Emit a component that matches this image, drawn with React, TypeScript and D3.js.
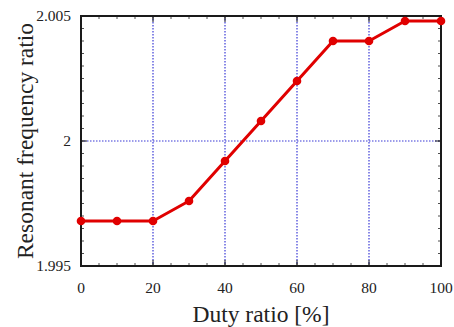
import React from "react"
import * as d3 from "d3"

const duty = [0, 10, 20, 30, 40, 50, 60, 70, 80, 90, 100]
const ratio = [1.9968, 1.9968, 1.9968, 1.9976, 1.9992, 2.0008, 2.0024, 2.004, 2.004, 2.0048, 2.0048]
const xTicks = [0, 20, 40, 60, 80, 100]
const yTicks = [1.995, 2, 2.005]
const yTickLabels = ["1.995", "2", "2.005"]

const margin = { top: 16, right: 13, bottom: 61, left: 81 }
const width = 454
const height = 327
const font = "'Liberation Serif', 'Times New Roman', serif"

export default function App() {
  const boundsWidth = width - margin.left - margin.right
  const boundsHeight = height - margin.top - margin.bottom

  const x = d3.scaleLinear().domain([0, 100]).range([0, boundsWidth])
  const y = d3.scaleLinear().domain([1.995, 2.005]).range([boundsHeight, 0])

  const line = d3.line<number>()
    .x((d, i) => x(duty[i]))
    .y(d => y(d))

  const minorY = d3.range(1.995, 2.00501, 0.0005)
  const minorX = d3.range(0, 100.1, 5)

  return (
    <svg width={width} height={height} style={{ position: "absolute", left: 0, top: 0 }}>
      <g transform={`translate(${margin.left},${margin.top})`}>
        {/* grid */}
        {xTicks.slice(1, -1).map(t => (
          <line key={"gx" + t} x1={x(t)} x2={x(t)} y1={0} y2={boundsHeight}
            stroke="#3a3ad6" strokeWidth={1.2} strokeDasharray="1.5,1.5" />
        ))}
        {yTicks.slice(1, -1).map(t => (
          <line key={"gy" + t} x1={0} x2={boundsWidth} y1={y(t)} y2={y(t)}
            stroke="#3a3ad6" strokeWidth={1.2} strokeDasharray="1.5,1.5" />
        ))}
        {/* minor ticks */}
        {minorY.map((t, i) => (
          <g key={"my" + i}>
            <line x1={0} x2={3} y1={y(t)} y2={y(t)} stroke="#222" strokeWidth={0.8} />
            <line x1={boundsWidth} x2={boundsWidth - 3} y1={y(t)} y2={y(t)} stroke="#222" strokeWidth={0.8} />
          </g>
        ))}
        {minorX.map((t, i) => (
          <g key={"mx" + i}>
            <line x1={x(t)} x2={x(t)} y1={boundsHeight} y2={boundsHeight - 3} stroke="#222" strokeWidth={0.8} />
            <line x1={x(t)} x2={x(t)} y1={0} y2={3} stroke="#222" strokeWidth={0.8} />
          </g>
        ))}
        {xTicks.map(t => (
          <g key={"tx" + t}>
            <line x1={x(t)} x2={x(t)} y1={boundsHeight} y2={boundsHeight - 6} stroke="#222" strokeWidth={1} />
            <line x1={x(t)} x2={x(t)} y1={0} y2={6} stroke="#222" strokeWidth={1} />
            <text x={x(t)} y={boundsHeight + 27} textAnchor="middle" fontFamily={font} fontSize={15.5} fill="#222">{t}</text>
          </g>
        ))}
        {yTicks.map((t, i) => (
          <g key={"ty" + t}>
            <line x1={0} x2={6} y1={y(t)} y2={y(t)} stroke="#222" strokeWidth={1} />
            <line x1={boundsWidth} x2={boundsWidth - 6} y1={y(t)} y2={y(t)} stroke="#222" strokeWidth={1} />
            <text x={-10} y={y(t)} dy="0.35em" textAnchor="end" fontFamily={font} fontSize={15.5} fill="#222">{yTickLabels[i]}</text>
          </g>
        ))}
        {/* frame */}
        <rect x={0} y={0} width={boundsWidth} height={boundsHeight} fill="none" stroke="#1a1a1a" strokeWidth={2} />
        {/* data */}
        <path d={line(ratio) || ""} fill="none" stroke="#e00000" strokeWidth={3} strokeLinejoin="round" />
        {ratio.map((v, i) => (
          <circle key={"p" + i} cx={x(duty[i])} cy={y(v)} r={4.3} fill="#e00000" />
        ))}
        {/* axis titles */}
        <text x={boundsWidth / 2} y={boundsHeight + 56} textAnchor="middle" fontFamily={font} fontSize={23.5} fill="#222">Duty ratio [%]</text>
        <text transform={`translate(${-48},${boundsHeight / 2}) rotate(-90)`} textAnchor="middle" fontFamily={font} fontSize={23.5} fill="#222">Resonant frequency ratio</text>
      </g>
    </svg>
  )
}
